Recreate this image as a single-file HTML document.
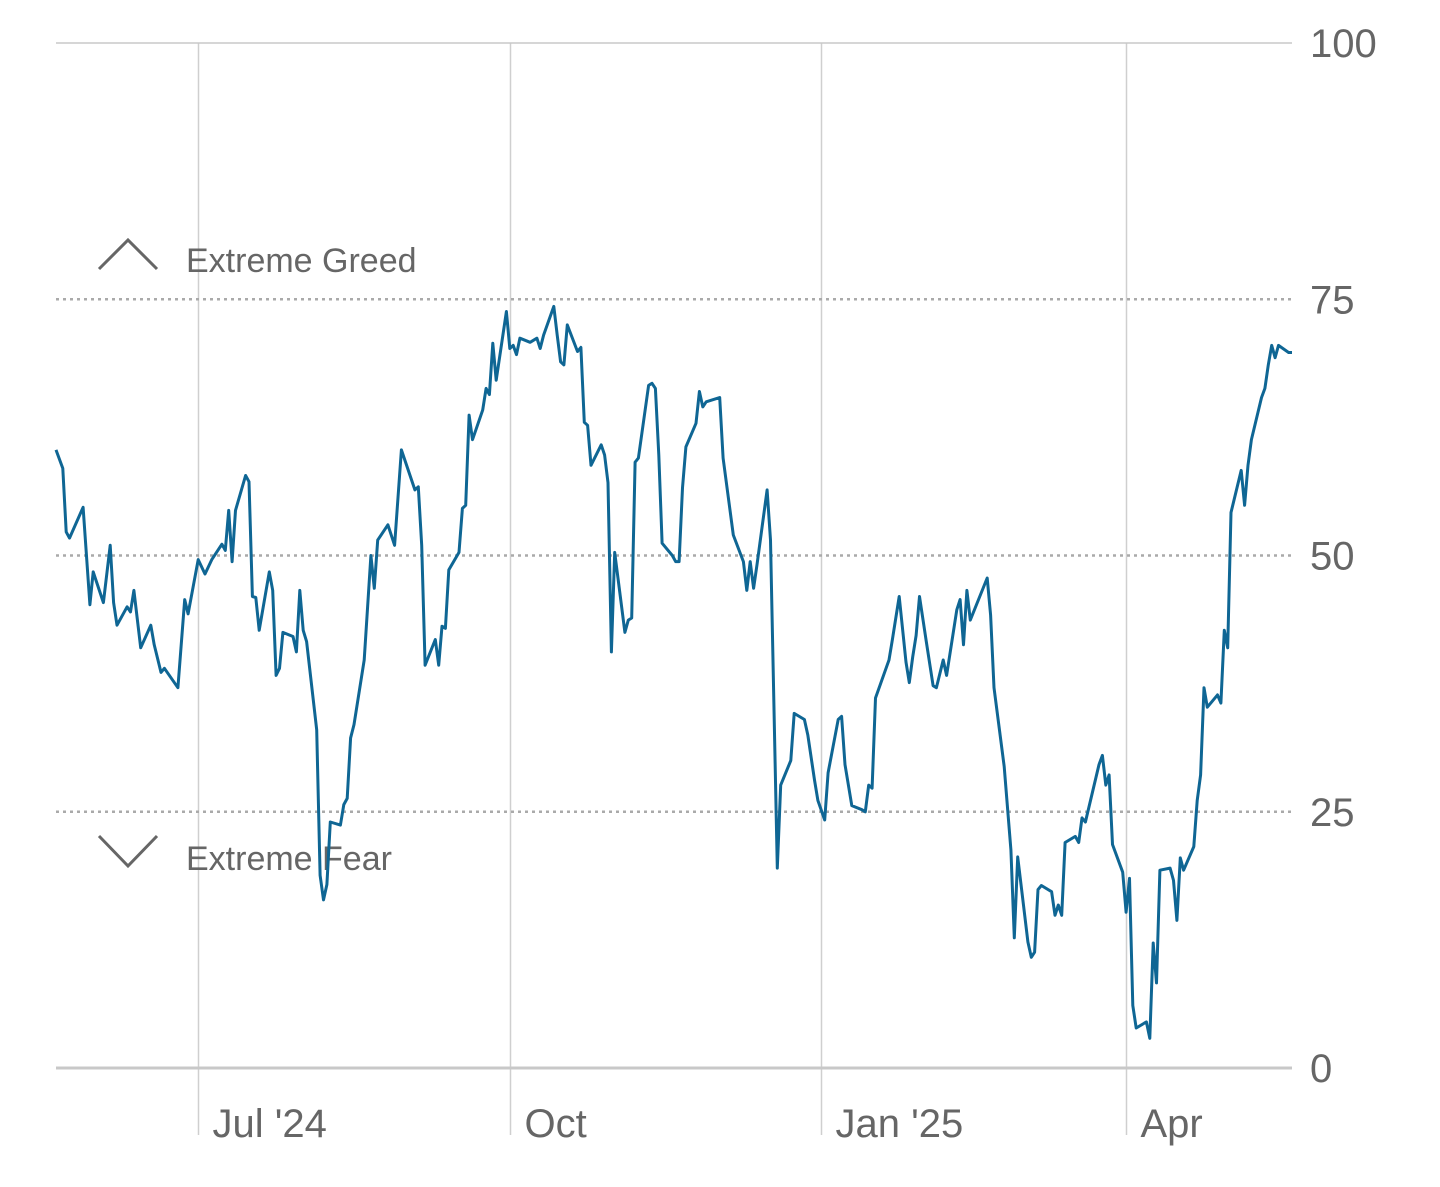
<!DOCTYPE html>
<html><head><meta charset="utf-8">
<style>
html,body{margin:0;padding:0;background:#fff;}
svg{display:block;font-family:"Liberation Sans",sans-serif;}
</style></head>
<body>
<svg id="chart" width="1440" height="1187" viewBox="0 0 1440 1187" xmlns="http://www.w3.org/2000/svg">
<g id="grid"></g>
<g id="annotations">
  <polyline points="99,269 128,240 157,269" fill="none" stroke="#666" stroke-width="3"/>
  <text x="186" y="272" font-size="34" fill="#666">Extreme Greed</text>
  <polyline points="99,836 128,866 157,836" fill="none" stroke="#666" stroke-width="3"/>
  <text x="186" y="870" font-size="34" fill="#666">Extreme Fear</text>
</g>
<g id="series"></g>
</svg>
<script>
// days since 2024-05-20
const days = [0,2,3,4,8,10,11,14,16,17,18,21,22,23,25,28,29,31,32,36,38,39,42,44,46,49,50,51,52,53,56,57,58,59,60,63,64,65,66,67,70,71,72,73,74,77,78,79,80,81,84,85,86,87,88,91,93,94,95,98,100,102,106,107,108,109,112,113,114,115,116,119,120,121,122,123,126,127,128,129,130,133,134,135,136,137,140,142,143,144,147,148,149,150,151,154,155,156,157,158,161,162,163,164,165,168,169,170,171,172,175,176,177,178,179,182,183,184,185,186,189,190,191,192,194,196,197,200,203,204,205,206,207,210,211,213,214,217,218,221,222,224,225,227,228,231,232,233,235,238,239,240,241,242,246,247,249,251,252,253,254,255,257,259,260,262,263,266,267,268,269,270,275,276,277,280,282,283,284,287,288,289,290,291,294,295,296,297,298,301,302,303,304,308,309,310,311,312,315,316,317,318,319,322,323,324,325,326,329,330,331,332,333,336,337,338,339,340,343,344,345,346,347,350,351,352,353,356,357,358,359,360,361,364,365];
const values = [60.3,58.5,52.3,51.7,54.7,45.2,48.4,45.4,51.0,45.4,43.2,45.0,44.5,46.6,41.0,43.2,41.3,38.6,39.0,37.1,45.7,44.3,49.6,48.2,49.6,51.1,50.5,54.4,49.4,54.4,57.8,57.2,46.0,45.9,42.7,48.4,46.6,38.3,39.0,42.5,42.1,40.6,46.6,42.7,41.6,33.0,18.8,16.4,17.9,24.0,23.7,25.7,26.3,32.2,33.5,39.8,50.0,46.8,51.5,53.0,51.0,60.3,56.4,56.7,51.0,39.3,41.8,39.3,43.1,42.9,48.6,50.3,54.6,54.9,63.7,61.3,64.2,66.3,65.7,70.7,67.1,73.8,70.2,70.5,69.6,71.2,70.8,71.2,70.2,71.5,74.3,71.5,68.9,68.6,72.5,69.9,70.3,63.0,62.7,58.8,60.8,59.8,57.1,40.6,50.3,42.5,43.7,43.9,59.1,59.5,66.6,66.8,66.3,59.8,51.2,50.0,49.4,49.4,56.6,60.6,62.9,66.0,64.5,65.0,65.2,65.4,59.5,52.0,49.4,46.6,49.4,46.8,49.1,56.4,51.5,19.5,27.6,30.0,34.6,34.0,32.5,28.1,26.1,24.2,28.8,34.0,34.3,29.6,25.6,25.2,25.0,27.6,27.3,36.1,39.8,41.8,46.0,39.6,37.6,40.1,42.2,46.0,41.6,37.3,37.1,39.8,38.3,44.7,45.7,41.3,46.6,43.7,47.8,44.2,37.1,29.4,21.3,12.7,20.6,12.3,10.8,11.3,17.4,17.8,17.2,14.9,15.9,14.9,22.0,22.6,22.0,24.4,24.0,29.6,30.5,27.6,28.6,21.8,19.1,15.2,18.5,6.1,3.9,4.5,2.9,12.2,8.3,19.3,19.5,18.3,14.4,20.5,19.3,21.6,26.1,28.6,37.1,35.2,36.4,35.6,42.7,41.0,54.2,58.3,54.9,58.8,61.3,65.4,66.3,68.6,70.5,69.3,70.5,69.8,69.8];
const yTicks = [100,75,50,25,0];
const xTickLabels = ["Jul '24","Oct","Jan '25","Apr"];
const xTickDays = [42,134,226,316];

const X0=56, X1=1292, DMAX=365, Y0=1068, Y1=43;
function xs(d){return X0+(X1-X0)*d/DMAX;}
function ys(v){return Y0+(Y1-Y0)*v/100;}
const NS="http://www.w3.org/2000/svg";
const grid=document.getElementById('grid');
const series=document.getElementById('series');
function mk(tag,attrs,parent){const e=document.createElementNS(NS,tag);for(const k in attrs)e.setAttribute(k,attrs[k]);parent.appendChild(e);return e;}

xTickDays.forEach((d,i)=>{
  const x=Math.round(xs(d))+0.5;
  const l=mk('line',{x1:x,x2:x,y1:43,y2:1135,stroke:'#cfcfcf','stroke-width':1.5},grid);
  
  
  const t=mk('text',{x:x+14,y:1137,'font-size':40,fill:'#666'},grid);
  
  
  t.textContent=xTickLabels[i];
});
yTicks.forEach(v=>{
  const y=ys(v);
  const solid=(v===0||v===100);
  const l=mk('line',{x1:X0,x2:X1,y1:y,y2:y,stroke:solid?'#c8c8c8':'#aaa','stroke-width':solid?(v===0?3:1.5):2.5,'stroke-dasharray':solid?'none':'3,4'},grid);
  
  
  const t=mk('text',{x:1310,y:y+14,'font-size':40,fill:'#666'},grid);
  
  
  t.textContent=String(v);
});
const pts=days.map((d,i)=>xs(d).toFixed(1)+','+ys(values[i]).toFixed(1)).join(' ');
const line=mk('polyline',{points:pts,fill:'none',stroke:'#0f6694','stroke-width':3,'stroke-linejoin':'round'},series);


</script>
</body></html>
